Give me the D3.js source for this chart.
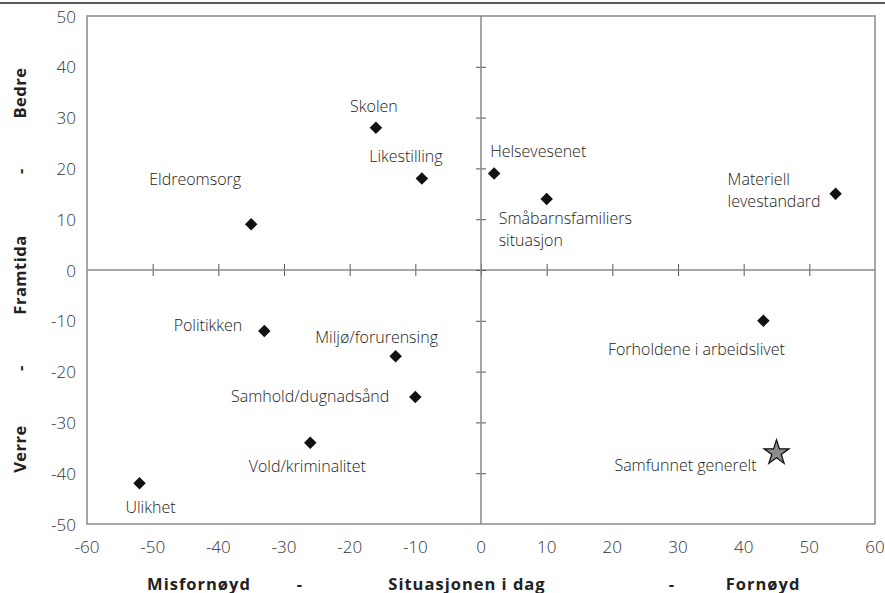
<!DOCTYPE html>
<html>
<head>
<meta charset="utf-8">
<script src="https://cdn.jsdelivr.net/npm/d3@7"></script>
<style>
  html, body { margin: 0; padding: 0; background: #fff; }
  svg { display: block; font-family: "Open Sans", "Noto Sans", sans-serif; }
</style>
</head>
<body>
<svg id="chart" width="885" height="593"></svg>
<script>
// ---- data ----
const names = ["Eldreomsorg", "Skolen", "Likestilling", "Helsevesenet", "Småbarnsfamiliers\nsituasjon",
  "Materiell\nlevestandard", "Politikken", "Miljø/forurensing", "Samhold/dugnadsånd",
  "Vold/kriminalitet", "Ulikhet", "Forholdene i arbeidslivet", "Samfunnet generelt"];
const situasjon = [-35, -16, -9, 2, 10, 54, -33, -13, -10, -26, -52, 43, 45];
const framtida  = [9, 28, 18, 19, 14, 15, -12, -17, -25, -34, -42, -10, -36];
const markerType = ["diamond","diamond","diamond","diamond","diamond","diamond","diamond",
  "diamond","diamond","diamond","diamond","diamond","star"];
const xTicks = [-60, -50, -40, -30, -20, -10, 0, 10, 20, 30, 40, 50, 60];
const yTicks = [-50, -40, -30, -20, -10, 0, 10, 20, 30, 40, 50];
const xTitleParts = ["Misfornøyd", "-", "Situasjonen i dag", "-", "Fornøyd"];
const yTitleParts = ["Bedre", "-", "Framtida", "-", "Verre"];

// ---- layout (label placement relative to markers: [dx, dy, anchor]) ----
const labelPlace = [
  [-56, -45, "middle"], [-2, -22, "middle"], [-16, -23, "middle"], [-4, -22, "start"],
  [-48, 19, "start"], [-108, -15, "start"], [-22, -6, "end"], [-19, -19, "middle"],
  [-26, -1, "end"], [-3, 23, "middle"], [11, 24, "middle"], [-67, 28, "middle"], [-20, 12, "end"]
];
const xTitlePos = [199, 300, 467, 672, 763];
const yTitlePos = [93, 171, 275, 368, 449];

const svg = d3.select("#chart");
const x = d3.scaleLinear().domain([-60, 60]).range([87, 875]);
const y = d3.scaleLinear().domain([-50, 50]).range([524, 16]);

// top rule
svg.append("line").attr("x1", 0).attr("x2", 885).attr("y1", 3).attr("y2", 3)
  .attr("stroke", "#222").attr("stroke-width", 1.5);

// plot border
svg.append("rect").attr("x", x(-60)).attr("y", y(50))
  .attr("width", x(60) - x(-60)).attr("height", y(-50) - y(50))
  .attr("fill", "none").attr("stroke", "#8a8a8a").attr("stroke-width", 1.5);

// zero axes with crossing ticks
const xAxis = d3.axisBottom(x).tickValues(xTicks.filter(d => d > -60 && d < 60)).tickSize(12).tickFormat("");
const gx = svg.append("g").attr("transform", `translate(0,${y(0) - 6})`).call(xAxis);
gx.select(".domain").remove();
gx.selectAll(".tick line").attr("stroke", "#555");
svg.append("line").attr("x1", x(-60)).attr("x2", x(60)).attr("y1", y(0)).attr("y2", y(0))
  .attr("stroke", "#8a8a8a").attr("stroke-width", 1.5);

const yAxis = d3.axisLeft(y).tickValues(yTicks.filter(d => d > -50 && d < 50)).tickSize(10).tickFormat("");
const gy = svg.append("g").attr("transform", `translate(${x(0) + 5},0)`).call(yAxis);
gy.select(".domain").remove();
gy.selectAll(".tick line").attr("stroke", "#555");
svg.append("line").attr("x1", x(0)).attr("x2", x(0)).attr("y1", y(50)).attr("y2", y(-50))
  .attr("stroke", "#8a8a8a").attr("stroke-width", 1.5);

// tick labels
svg.append("g").selectAll("text").data(xTicks).join("text")
  .attr("x", d => x(d)).attr("y", 546).attr("text-anchor", "middle")
  .attr("dominant-baseline", "central").attr("font-weight", 300)
  .attr("font-size", 17).attr("fill", "#333").text(d => d);
svg.append("g").selectAll("text").data(yTicks).join("text")
  .attr("x", 76).attr("y", d => y(d)).attr("text-anchor", "end")
  .attr("dominant-baseline", "central").attr("font-weight", 300)
  .attr("font-size", 17).attr("fill", "#333").text(d => d);

// axis titles
svg.append("g").selectAll("text").data(xTitleParts).join("text")
  .attr("x", (d, i) => xTitlePos[i]).attr("y", 583).attr("text-anchor", "middle")
  .attr("dominant-baseline", "central")
  .attr("font-size", 16.5).attr("font-weight", "bold").attr("letter-spacing", 1)
  .attr("fill", "#222").text(d => d);
svg.append("g").selectAll("text").data(yTitleParts).join("text")
  .attr("transform", (d, i) => `translate(19,${yTitlePos[i]}) rotate(-90)`)
  .attr("text-anchor", "middle").attr("dominant-baseline", "central")
  .attr("font-size", 16.5).attr("font-weight", "bold").attr("letter-spacing", 0.5)
  .attr("fill", "#222").text(d => d);

// points
const pts = names.map((n, i) => ({ name: n, sx: situasjon[i], fy: framtida[i], type: markerType[i], place: labelPlace[i] }));
const diamond = d3.symbol(d3.symbolSquare, 78)();
const star = d3.symbol(d3.symbolStar, 190)();
svg.append("g").selectAll("path").data(pts).join("path")
  .attr("transform", d => `translate(${x(d.sx)},${y(d.fy)})` + (d.type === "diamond" ? " rotate(45)" : ""))
  .attr("d", d => d.type === "diamond" ? diamond : star)
  .attr("fill", d => d.type === "diamond" ? "#111" : "#8c8c8c")
  .attr("stroke", "#111").attr("stroke-width", d => d.type === "diamond" ? 0 : 1.3);

// labels
const lab = svg.append("g").selectAll("text").data(pts).join("text")
  .attr("x", d => x(d.sx) + d.place[0]).attr("y", d => y(d.fy) + d.place[1])
  .attr("text-anchor", d => d.place[2]).attr("dominant-baseline", "central")
  .attr("font-size", 16).attr("font-weight", 300).attr("fill", "#222");
lab.each(function (d) {
  const lines = d.name.split("\n");
  d3.select(this).selectAll("tspan").data(lines).join("tspan")
    .attr("x", x(d.sx) + d.place[0]).attr("dy", (l, i) => i === 0 ? 0 : 22).text(l => l);
});
</script>
</body>
</html>
